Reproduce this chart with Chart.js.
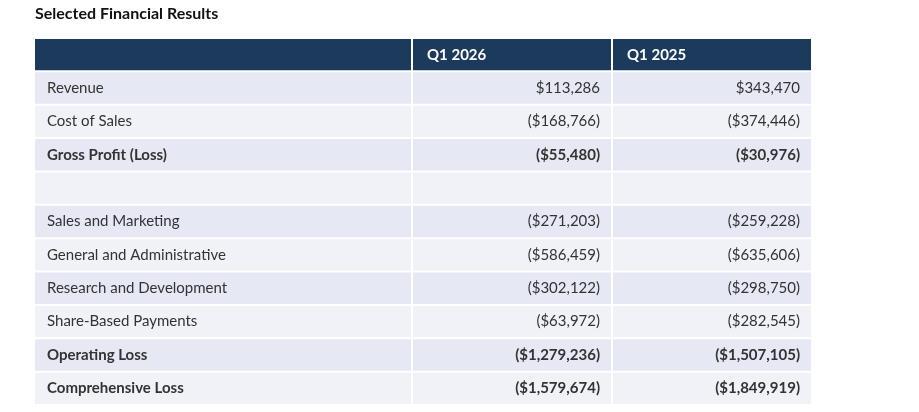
<!DOCTYPE html>
<html>
<head>
<meta charset="utf-8">
<script src="https://cdn.jsdelivr.net/npm/chart.js@4"></script>
<style>
  html, body { margin: 0; padding: 0; background: #fff; }
  #wrap { position: relative; width: 919px; height: 412px; }
  h1 { position: absolute; left: 35px; top: 3px; margin: 0; font: bold 16px Lato, sans-serif; color: #111; }
</style>
</head>
<body>
<div id="wrap">
  <h1>Selected Financial Results</h1>
  <canvas id="myChart" width="919" height="412"></canvas>
</div>
<script>
// Table rows: label, Q1 2026, Q1 2025, bold
const rows = [
    ['', 'Q1 2026', 'Q1 2025', true],
    ['Revenue', '$113,286', '$343,470', false],
    ['Cost of Sales', '($168,766)', '($374,446)', false],
    ['Gross Profit (Loss)', '($55,480)', '($30,976)', true],
    ['', '', '', false],
    ['Sales and Marketing', '($271,203)', '($259,228)', false],
    ['General and Administrative', '($586,459)', '($635,606)', false],
    ['Research and Development', '($302,122)', '($298,750)', false],
    ['Share-Based Payments', '($63,972)', '($282,545)', false],
    ['Operating Loss', '($1,279,236)', '($1,507,105)', true],
    ['Comprehensive Loss', '($1,579,674)', '($1,849,919)', true]
]
const cols = [[35, 411], [413, 611], [613, 811]]
const labels = rows.map((r, i) => 'r' + i)

function rowColor(i) {
    if (i === 0) return '#1b3a5c'
    return i % 2 === 1 ? '#e6e8f4' : '#f0f2f8'
}

const datasets = cols.map(c => ({
    data: rows.map(() => c),
    backgroundColor: rows.map((r, i) => rowColor(i)),
    barPercentage: 1,
    categoryPercentage: 0.94,
    grouped: false
}))

const cellText = {
    id: 'cellText',
    afterDatasetsDraw(chart) {
        const ctx = chart.ctx
        const x = chart.scales.x, y = chart.scales.y
        rows.forEach((r, i) => {
            const py = y.getPixelForValue(i)
            ctx.save()
            ctx.textBaseline = 'middle'
            ctx.font = (r[3] ? 'bold ' : '') + '15px Lato, sans-serif'
            ctx.fillStyle = i === 0 ? '#ffffff' : '#333333'
            ctx.textAlign = 'left'
            ctx.fillText(r[0], x.getPixelForValue(47), py)
            if (i === 0) {
                ctx.fillText(r[1], x.getPixelForValue(427), py)
                ctx.fillText(r[2], x.getPixelForValue(627), py)
            } else {
                ctx.textAlign = 'right'
                ctx.fillText(r[1], x.getPixelForValue(600), py)
                ctx.fillText(r[2], x.getPixelForValue(800), py)
            }
            ctx.restore()
        })
    }
}

new Chart(document.getElementById('myChart'), {
    type: 'bar',
    data: { labels: labels, datasets: datasets },
    options: {
        indexAxis: 'y',
        responsive: false,
        animation: false,
        layout: { padding: { top: 38, bottom: 7, left: 0, right: 0 } },
        scales: {
            x: { type: 'linear', min: 0, max: 919, display: false },
            y: { display: false }
        },
        plugins: { legend: { display: false }, tooltip: { enabled: false } }
    },
    plugins: [cellText]
})
</script>
</body>
</html>
